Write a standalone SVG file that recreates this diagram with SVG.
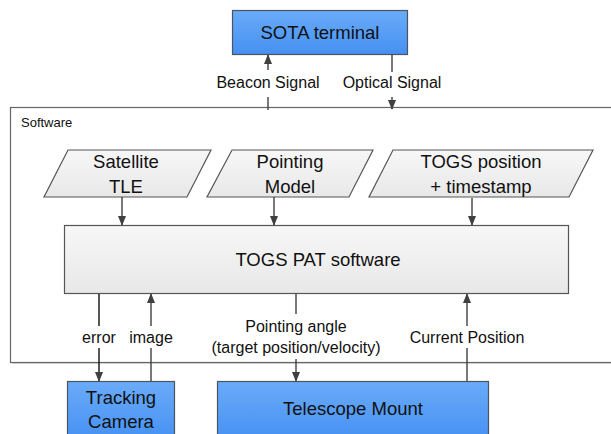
<svg xmlns="http://www.w3.org/2000/svg" width="611" height="434" viewBox="0 0 611 434">
<style>
text{font-family:"Liberation Sans",Arial,sans-serif;fill:#111;text-anchor:middle}
.big{font-size:18.5px}
.lbl{font-size:16px}
.sw{font-size:13px;text-anchor:start}
.blue{fill:url(#gb);stroke:#4a5560;stroke-width:1.2}
.gray{fill:url(#gg);stroke:#555;stroke-width:1.2}
.c{stroke:#404040;stroke-width:1.4;fill:none}
.ca{stroke:#404040;stroke-width:1.4;fill:none;marker-end:url(#ah)}
</style>
<defs>
<linearGradient id="gb" x1="0" y1="0" x2="0" y2="1"><stop offset="0" stop-color="#6aabf9"/><stop offset="1" stop-color="#4590f2"/></linearGradient>
<linearGradient id="gg" x1="0" y1="0" x2="0" y2="1"><stop offset="0" stop-color="#f7f7f7"/><stop offset="1" stop-color="#e8e8e8"/></linearGradient>
<marker id="ah" markerUnits="userSpaceOnUse" markerWidth="10" markerHeight="10" refX="9" refY="5" orient="auto" viewBox="0 0 10 10"><path d="M0,1 L10,5 L0,9 z" fill="#404040"/></marker>
</defs>
<g id="software">
<rect x="12" y="109" width="620" height="255" fill="#d9d9d9"/>
<rect x="10.5" y="107.5" width="620" height="255" fill="#fff" stroke="#666" stroke-width="1.2"/>
<text class="sw" x="21" y="127">Software</text>
</g>
<g id="sota"><rect class="blue" x="232.5" y="10.5" width="175" height="44"/><text class="big" x="320" y="39">SOTA terminal</text></g>
<g id="tle"><polygon class="gray" points="68,150 211,150 187,197 44,197"/><text class="big" x="126" y="168">Satellite</text><text class="big" x="126" y="193">TLE</text></g>
<g id="pointing"><polygon class="gray" points="232,150 373,150 349,197 207,197"/><text class="big" x="290" y="168">Pointing</text><text class="big" x="290" y="193">Model</text></g>
<g id="togs"><polygon class="gray" points="393,150 593,150 569,197 369,197"/><text class="big" x="481" y="168">TOGS position</text><text class="big" x="481" y="193">+ timestamp</text></g>
<g id="pat"><rect class="gray" x="64.5" y="225.5" width="504" height="68"/><text class="big" x="318" y="266">TOGS PAT software</text></g>
<g id="camera"><rect class="blue" x="67.5" y="381.5" width="107" height="60"/><text class="big" x="121" y="404">Tracking</text><text class="big" x="121" y="428">Camera</text></g>
<g id="mount"><rect class="blue" x="217.5" y="381.5" width="271" height="60"/><text class="big" x="353" y="415">Telescope Mount</text></g>
<g id="connectors">
<path class="c" d="M268,110 V97"/><path class="ca" d="M268,70 V55"/>
<path class="c" d="M392,55 V72"/><path class="ca" d="M392,97 V109"/>
<path class="ca" d="M122,197 V225"/>
<path class="ca" d="M274,197 V225"/>
<path class="ca" d="M472,198 V225"/>
<path class="c" d="M99,294 V326" style="stroke:#111"/><path class="ca" d="M99,348 V381" style="stroke:#111"/>
<path class="c" d="M151,381 V348"/><path class="ca" d="M151,326 V294"/>
<path class="c" d="M296,294 V314"/><path class="ca" d="M296,359 V381"/>
<path class="c" d="M467,381 V348"/><path class="ca" d="M467,326 V294"/>
<text class="lbl" x="268" y="88">Beacon Signal</text>
<text class="lbl" x="392" y="88">Optical Signal</text>
<text class="lbl" x="99" y="343">error</text>
<text class="lbl" x="151" y="343">image</text>
<text class="lbl" x="296" y="332">Pointing angle</text>
<text class="lbl" x="296" y="353">(target position/velocity)</text>
<text class="lbl" x="467" y="343">Current Position</text>
</g>
</svg>
